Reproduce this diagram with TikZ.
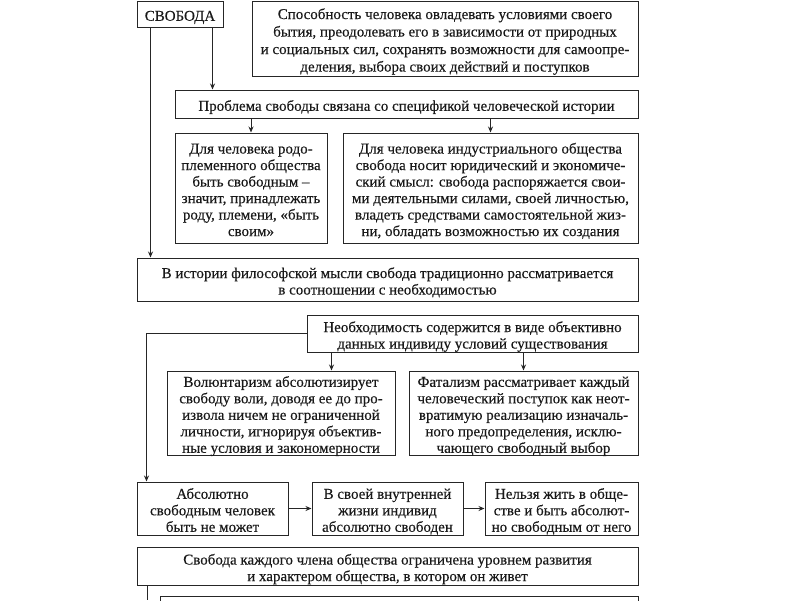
\documentclass[tikz,border=0pt]{standalone}
\usepackage{fontspec}
\setmainfont{Liberation Serif}[FakeBold=0.3]
\usetikzlibrary{arrows.meta,calc}
\tikzset{
  box/.style={draw=black!85, line width=1pt, inner sep=0pt,
    font=\fontsize{15}{16.5}\selectfont, text=black!90},
  arr/.style={draw=black!85, line width=1pt, -{Stealth[length=6pt,width=5pt]}},
  ln/.style={draw=black!85, line width=1pt}
}
\newcommand{\bx}[6]{\node[box, minimum width={#4-#2}, minimum height={#5-#3}] (#1) at ({(#2+#4)/2},{(#3+#5)/2}) {\raisebox{-3.5pt}[\height][\depth]{\begin{tabular}{@{}c@{}}#6\end{tabular}}};}
\begin{document}
\begin{tikzpicture}[x=1pt,y=-1pt]
\useasboundingbox (0,0) rectangle (800,600);
\fill[white] (0,0) rectangle (800,600);
\bx{svoboda}{137}{1}{223}{27}{СВОБОДА}
\bx{def}{252}{1}{638}{76}{Способность человека овладевать условиями своего\\[1pt] бытия, преодолевать его в зависимости от природных\\[1pt] и социальных сил, сохранять возможности для самоопре-\\[1pt] деления, выбора своих действий и поступков}
\bx{problem}{175}{90}{638}{118}{Проблема свободы связана со спецификой человеческой истории}
\bx{rodo}{175}{133}{327}{243}{Для человека родо-\\ племенного общества\\ быть свободным –\\ значит, принадлежать\\ роду, племени, «быть\\ своим»}
\bx{indust}{343}{133}{638}{243}{Для человека индустриального общества\\ свобода носит юридический и экономиче-\\ ский смысл: свобода распоряжается свои-\\ ми деятельными силами, своей личностью,\\ владеть средствами самостоятельной жиз-\\ ни, обладать возможностью их создания}
\bx{istoria}{137}{258}{638}{301}{В истории философской мысли свобода традиционно рассматривается\\ в соотношении с необходимостью}
\bx{need}{307}{315}{638}{352}{Необходимость содержится в виде объективно\\ данных индивиду условий существования}
\bx{vol}{167}{371}{395}{455}{Волюнтаризм абсолютизирует\\ свободу воли, доводя ее до про-\\ извола ничем не ограниченной\\ личности, игнорируя объектив-\\ ные условия и закономерности}
\bx{fat}{409}{371}{638}{455}{Фатализм рассматривает каждый\\ человеческий поступок как неот-\\ вратимую реализацию изначаль-\\ ного предопределения, исклю-\\ чающего свободный выбор}
\bx{abs}{137}{482}{288}{535}{Абсолютно\\ свободным человек\\ быть не может}
\bx{inner}{312}{482}{463}{535}{В своей внутренней\\ жизни индивид\\ абсолютно свободен}
\bx{nelzya}{485}{482}{638}{535}{Нельзя жить в обще-\\ стве и быть абсолют-\\ но свободным от него}
\bx{kazhd}{137}{547}{638}{585}{Свобода каждого члена общества ограничена уровнем развития\\ и характером общества, в котором он живет}
\begin{scope}
\clip (0,0) rectangle (800,600);
\bx{next}{160}{596}{638}{640}{}
\end{scope}
% connectors
\draw[arr] ([xshift=14pt]svoboda.south west) -- ([xshift=14pt]svoboda.south west |- istoria.north);
\draw[arr] ([xshift=76pt]svoboda.south west) -- ([xshift=76pt]svoboda.south west |- problem.north);
\draw[arr] (problem.south -| rodo.north) -- (rodo.north);
\draw[arr] (problem.south -| indust.north) -- (indust.north);
\draw[arr] ([xshift=25pt]need.south west) -- ([xshift=25pt]need.south west |- vol.north);
\draw[arr] (need.south -| fat.north) -- (fat.north);
\draw[arr] (need.west) -- ([xshift=-160pt]need.west) -- ([xshift=10pt]abs.north west);
\draw[arr] (abs) -- (inner);
\draw[arr] (inner) -- (nelzya);
\coordinate (down) at (147,600);
\draw[ln] (kazhd.south west -| down) -- (down);
\end{tikzpicture}
\end{document}
